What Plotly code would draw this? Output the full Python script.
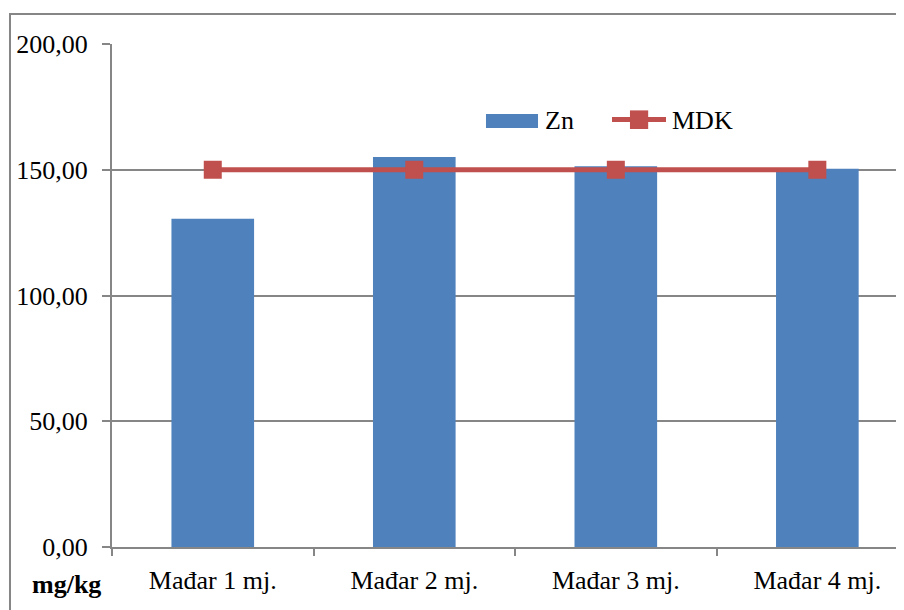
"""Zn u uzorcima (Mađar 1–4 mj.) u odnosu na MDK."""

import plotly.graph_objects as go

uzorci = ["Mađar 1 mj.", "Mađar 2 mj.", "Mađar 3 mj.", "Mađar 4 mj."]
zn_vrijednosti = [130.5, 155.1, 151.4, 150.4]
mdk_vrijednosti = [150.0, 150.0, 150.0, 150.0]
y_oznake = [0, 50, 100, 150, 200]

COR_ZN = "#4F81BD"
COR_MDK = "#C0504D"
SIVA = "#868686"
FONT = "Liberation Serif"

fig = go.Figure()
fig.add_trace(
    go.Bar(
        x=uzorci,
        y=zn_vrijednosti,
        name="Zn",
        marker=dict(color=COR_ZN, line=dict(width=0)),
        width=0.41,
        showlegend=False,
    )
)
fig.add_trace(
    go.Scatter(
        x=uzorci,
        y=mdk_vrijednosti,
        name="MDK",
        mode="lines+markers",
        line=dict(color=COR_MDK, width=5),
        marker=dict(symbol="square", size=18, color=COR_MDK),
        showlegend=False,
    )
)

# okvir grafikona (desni i donji rub su izvan slike)
fig.add_shape(
    type="rect", xref="paper", yref="paper",
    x0=-0.1288, x1=1.1, y0=-0.3, y1=1.0596,
    line=dict(color=SIVA, width=2), fillcolor="rgba(0,0,0,0)", layer="below",
)

# legenda nacrtana ručno (široki uzorci kao u Excelu)
fig.add_shape(
    type="rect", xref="paper", yref="paper",
    x0=0.4722, x1=0.5379, y0=0.833, y1=0.861,
    line=dict(width=0), fillcolor=COR_ZN,
)
fig.add_annotation(
    xref="paper", yref="paper", x=0.5442, y=0.847, text="Zn",
    showarrow=False, xanchor="left", yanchor="middle",
    font=dict(family=FONT, size=26, color="black"),
)
fig.add_shape(
    type="line", xref="paper", yref="paper",
    x0=0.6313, x1=0.6995, y0=0.850, y1=0.850,
    line=dict(color=COR_MDK, width=5),
)
fig.add_shape(
    type="rect", xref="paper", yref="paper",
    x0=0.654, x1=0.677, y0=0.831, y1=0.868,
    line=dict(width=0), fillcolor=COR_MDK,
)
fig.add_annotation(
    xref="paper", yref="paper", x=0.7045, y=0.847, text="MDK",
    showarrow=False, xanchor="left", yanchor="middle",
    font=dict(family=FONT, size=26, color="black"),
)

fig.add_annotation(
    xref="paper", yref="paper", x=-0.057, y=-0.0755,
    text="<b>mg/kg</b>", showarrow=False,
    font=dict(family=FONT, size=26, color="black"),
    xanchor="center", yanchor="middle",
)

fig.update_xaxes(
    range=[-0.5, 3.43],
    showline=True, linecolor=SIVA, linewidth=2,
    ticks="outside", tickson="boundaries", ticklen=7, tickcolor=SIVA, tickwidth=2,
    ticklabelstandoff=9,
    showgrid=False,
    tickfont=dict(family=FONT, size=26, color="black"),
)
fig.update_yaxes(
    range=[0, 200],
    tickvals=y_oznake, tickformat=".2f",
    showline=True, linecolor=SIVA, linewidth=2,
    ticks="outside", ticklen=8, tickcolor=SIVA, tickwidth=2,
    ticklabelstandoff=9,
    showgrid=True, gridcolor=SIVA, gridwidth=2,
    zeroline=False,
    tickfont=dict(family=FONT, size=26, color="black"),
)
fig.update_layout(
    width=896,
    height=602,
    separators=", ",
    plot_bgcolor="white",
    paper_bgcolor="white",
    margin=dict(l=104, r=0, t=36, b=63, autoexpand=False),
    font=dict(family=FONT, size=26, color="black"),
    showlegend=False,
)

fig.write_html("out.html")
